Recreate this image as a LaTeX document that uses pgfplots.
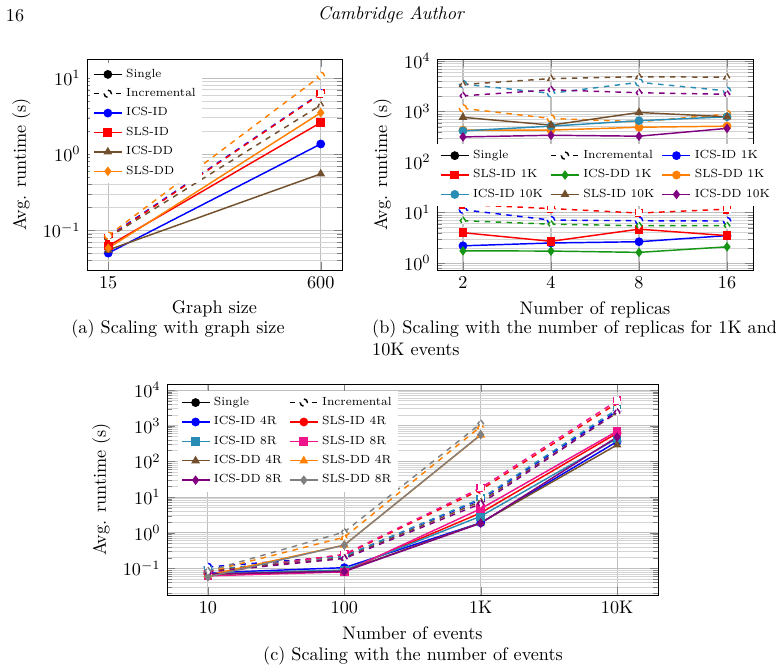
\documentclass[border=0pt]{standalone}
\usepackage{pgfplots}
\pgfplotsset{compat=1.18}
\definecolor{cBlue}{RGB}{0,0,255}
\definecolor{cRed}{RGB}{255,0,0}
\definecolor{cBrown}{RGB}{115,80,45}
\definecolor{cOrange}{RGB}{255,128,0}
\definecolor{cGreen}{RGB}{20,150,20}
\definecolor{cTeal}{RGB}{40,140,180}
\definecolor{cPurple}{RGB}{128,0,128}
\definecolor{cPink}{RGB}{240,20,140}
\definecolor{cGray}{RGB}{128,128,128}
\pgfplotsset{legend image code/.code={%
  \draw[mark repeat=2,mark phase=2] plot coordinates {(0cm,0cm) (0.27cm,0cm) (0.54cm,0cm)};}}
\newcommand{\lgfont}{\fontsize{6.5}{7.5}\selectfont}
\begin{document}
\begin{tikzpicture}
\useasboundingbox (0,0) rectangle (426.8pt,369.6pt);
\node at (8.25pt,361.0pt) {16};
\node at (215pt,361.3pt) {\itshape Cambridge Author};

% ---------------- (a)
\begin{axis}[scale only axis, ymode=log, grid=both,
  major grid style={draw=black!25, line width=0.6pt},
  minor grid style={draw=black!17, line width=0.4pt},
  ylabel={Avg. runtime (s)},
  legend cell align=left,
  at={(47.85pt,221.1pt)}, anchor=south west,
  width=140.25pt, height=116.05pt,
  xmin=-43.5, xmax=658.5, xtick={15,600},
  ymin=0.03, ymax=17.8,
  xlabel={Graph size},
  legend style={font=\lgfont, draw=none, fill=white, inner sep=1.5pt, row sep=0.6pt, at={(0.012,0.985)}, anchor=north west},
]
\addlegendimage{black, thick, mark=*}\addlegendentry{Single}
\addlegendimage{black, thick, dashed, mark=*, mark options={fill=white}}\addlegendentry{Incremental}
\addplot[thick, cBlue, mark=*] coordinates {(15,0.050) (600,1.36)};\addlegendentry{ICS-ID}
\addplot[thick, dashed, cBlue, mark=*, mark options={fill=white}, forget plot] coordinates {(15,0.082) (600,6.3)};
\addplot[thick, cRed, mark=square*] coordinates {(15,0.062) (600,2.6)};\addlegendentry{SLS-ID}
\addplot[thick, dashed, cRed, mark=square*, mark options={fill=white}, forget plot] coordinates {(15,0.080) (600,6.2)};
\addplot[thick, cBrown, mark=triangle*] coordinates {(15,0.055) (600,0.55)};\addlegendentry{ICS-DD}
\addplot[thick, dashed, cBrown, mark=triangle*, mark options={fill=white}, forget plot] coordinates {(15,0.080) (600,4.4)};
\addplot[thick, cOrange, mark=diamond*] coordinates {(15,0.058) (600,3.5)};\addlegendentry{SLS-DD}
\addplot[thick, dashed, cOrange, mark=*, mark options={fill=white}, forget plot] coordinates {(15,0.085) (600,10.7)};
\end{axis}

% ---------------- (b)
\begin{axis}[scale only axis, ymode=log, grid=both,
  major grid style={draw=black!25, line width=0.6pt},
  minor grid style={draw=black!17, line width=0.4pt},
  ylabel={Avg. runtime (s)},
  legend cell align=left,
  at={(240.35pt,221.1pt)}, anchor=south west,
  width=173.8pt, height=116.05pt,
  xmin=0.705, xmax=4.295, xtick={1,2,3,4}, xticklabels={2,4,8,16},
  ymin=0.73, ymax=11000,
  xlabel={Number of replicas},
  legend columns=3,
  legend style={font=\lgfont, draw=none, fill=white, inner sep=1.5pt, row sep=0.6pt, at={(0,0.45)}, anchor=west,
    /tikz/every even column/.append style={column sep=2pt}},
]
\addlegendimage{black, thick, mark=*}\addlegendentry{Single}
\addlegendimage{black, thick, dashed, mark=*, mark options={fill=white}}\addlegendentry{Incremental}
\addplot[thick, cBlue, mark=*] coordinates {(1,2.2) (2,2.5) (3,2.65) (4,3.5)};\addlegendentry{ICS-ID 1K}
\addplot[thick, dashed, cBlue, mark=*, mark options={fill=white}, forget plot] coordinates {(1,11.4) (2,7.1) (3,6.9) (4,6.8)};
\addplot[thick, cRed, mark=square*] coordinates {(1,4.0) (2,2.7) (3,4.7) (4,3.5)};\addlegendentry{SLS-ID 1K}
\addplot[thick, dashed, cRed, mark=square*, mark options={fill=white}, forget plot] coordinates {(1,14.5) (2,12.0) (3,9.8) (4,11.7)};
\addplot[thick, cGreen, mark=diamond*] coordinates {(1,1.75) (2,1.73) (3,1.63) (4,2.1)};\addlegendentry{ICS-DD 1K}
\addplot[thick, dashed, cGreen, mark=diamond*, mark options={fill=white}, forget plot] coordinates {(1,6.9) (2,5.9) (3,5.5) (4,5.5)};
\addplot[thick, cOrange, mark=*] coordinates {(1,430) (2,430) (3,490) (4,515)};\addlegendentry{SLS-DD 1K}
\addplot[thick, dashed, cOrange, mark=*, mark options={fill=white}, forget plot] coordinates {(1,1160) (2,730) (3,630) (4,890)};
\addplot[thick, cTeal, mark=*] coordinates {(1,415) (2,515) (3,660) (4,790)};\addlegendentry{ICS-ID 10K}
\addplot[thick, dashed, cTeal, mark=*, mark options={fill=white}, forget plot] coordinates {(1,3500) (2,2300) (3,3800) (4,2570)};
\addplot[thick, cBrown, mark=triangle*] coordinates {(1,770) (2,540) (3,960) (4,790)};\addlegendentry{SLS-ID 10K}
\addplot[thick, dashed, cBrown, mark=triangle*, mark options={fill=white}, forget plot] coordinates {(1,3450) (2,4500) (3,4900) (4,4800)};
\addplot[thick, cPurple, mark=diamond*] coordinates {(1,315) (2,340) (3,326) (4,465)};\addlegendentry{ICS-DD 10K}
\addplot[thick, dashed, cPurple, mark=diamond*, mark options={fill=white}, forget plot] coordinates {(1,2050) (2,2700) (3,2360) (4,2200)};
\end{axis}

% ---------------- (c)
\begin{axis}[scale only axis, ymode=log, grid=both,
  major grid style={draw=black!25, line width=0.6pt},
  minor grid style={draw=black!17, line width=0.4pt},
  ylabel={Avg. runtime (s)},
  legend cell align=left,
  at={(91.85pt,42.35pt)}, anchor=south west,
  width=270.05pt, height=116.05pt,
  xmin=0.7, xmax=4.3, xtick={1,2,3,4}, xticklabels={10,100,1K,10K},
  ymin=0.018, ymax=14800,
  xlabel={Number of events},
  legend columns=2,
  legend style={font=\lgfont, draw=none, fill=white, inner sep=1.5pt, row sep=0.6pt, at={(0.022,0.97)}, anchor=north west,
    /tikz/every even column/.append style={column sep=2pt}},
]
\addlegendimage{black, thick, mark=*}\addlegendentry{Single}
\addlegendimage{black, thick, dashed, mark=*, mark options={fill=white}}\addlegendentry{Incremental}
\addplot[thick, cBlue, mark=*] coordinates {(1,0.075) (2,0.105) (3,1.9) (4,360)};\addlegendentry{ICS-ID 4R}
\addplot[thick, dashed, cBlue, mark=*, mark options={fill=white}, forget plot] coordinates {(1,0.11) (2,0.22) (3,8.5) (4,2600)};
\addplot[thick, cRed, mark=*] coordinates {(1,0.07) (2,0.085) (3,3.6) (4,620)};\addlegendentry{SLS-ID 4R}
\addplot[thick, dashed, cRed, mark=*, mark options={fill=white}, forget plot] coordinates {(1,0.085) (2,0.24) (3,16) (4,4300)};
\addplot[thick, cTeal, mark=square*] coordinates {(1,0.072) (2,0.09) (3,2.9) (4,440)};\addlegendentry{ICS-ID 8R}
\addplot[thick, dashed, cTeal, mark=square*, mark options={fill=white}, forget plot] coordinates {(1,0.09) (2,0.22) (3,9) (4,2900)};
\addplot[thick, cPink, mark=square*] coordinates {(1,0.062) (2,0.08) (3,4.7) (4,700)};\addlegendentry{SLS-ID 8R}
\addplot[thick, dashed, cPink, mark=square*, mark options={fill=white}, forget plot] coordinates {(1,0.07) (2,0.25) (3,18) (4,5000)};
\addplot[thick, cBrown, mark=triangle*] coordinates {(1,0.068) (2,0.085) (3,1.9) (4,290)};\addlegendentry{ICS-DD 4R}
\addplot[thick, dashed, cBrown, mark=triangle*, mark options={fill=white}, forget plot] coordinates {(1,0.085) (2,0.2) (3,7.5) (4,2300)};
\addplot[thick, cOrange, mark=triangle*] coordinates {(1,0.065) (2,0.45) (3,550)};\addlegendentry{SLS-DD 4R}
\addplot[thick, dashed, cOrange, mark=triangle*, mark options={fill=white}, forget plot] coordinates {(1,0.08) (2,0.75) (3,950)};
\addplot[thick, cPurple, mark=diamond*] coordinates {(1,0.07) (2,0.082) (3,1.85) (4,480)};\addlegendentry{ICS-DD 8R}
\addplot[thick, dashed, cPurple, mark=diamond*, mark options={fill=white}, forget plot] coordinates {(1,0.08) (2,0.19) (3,6.5) (4,2400)};
\addplot[thick, cGray, mark=diamond*] coordinates {(1,0.058) (2,0.45) (3,560)};\addlegendentry{SLS-DD 8R}
\addplot[thick, dashed, cGray, mark=diamond*, mark options={fill=white}, forget plot] coordinates {(1,0.085) (2,1.05) (3,1150)};
\end{axis}

\node at (97.9pt,188.6pt) {(a) Scaling with graph size};
\node[anchor=north west, inner sep=0pt, align=left] at (204.5pt,193.6pt) {(b) Scaling with the number of replicas for 1K and\\10K events};
\node at (227.15pt,8.8pt) {(c) Scaling with the number of events};
\end{tikzpicture}
\end{document}
